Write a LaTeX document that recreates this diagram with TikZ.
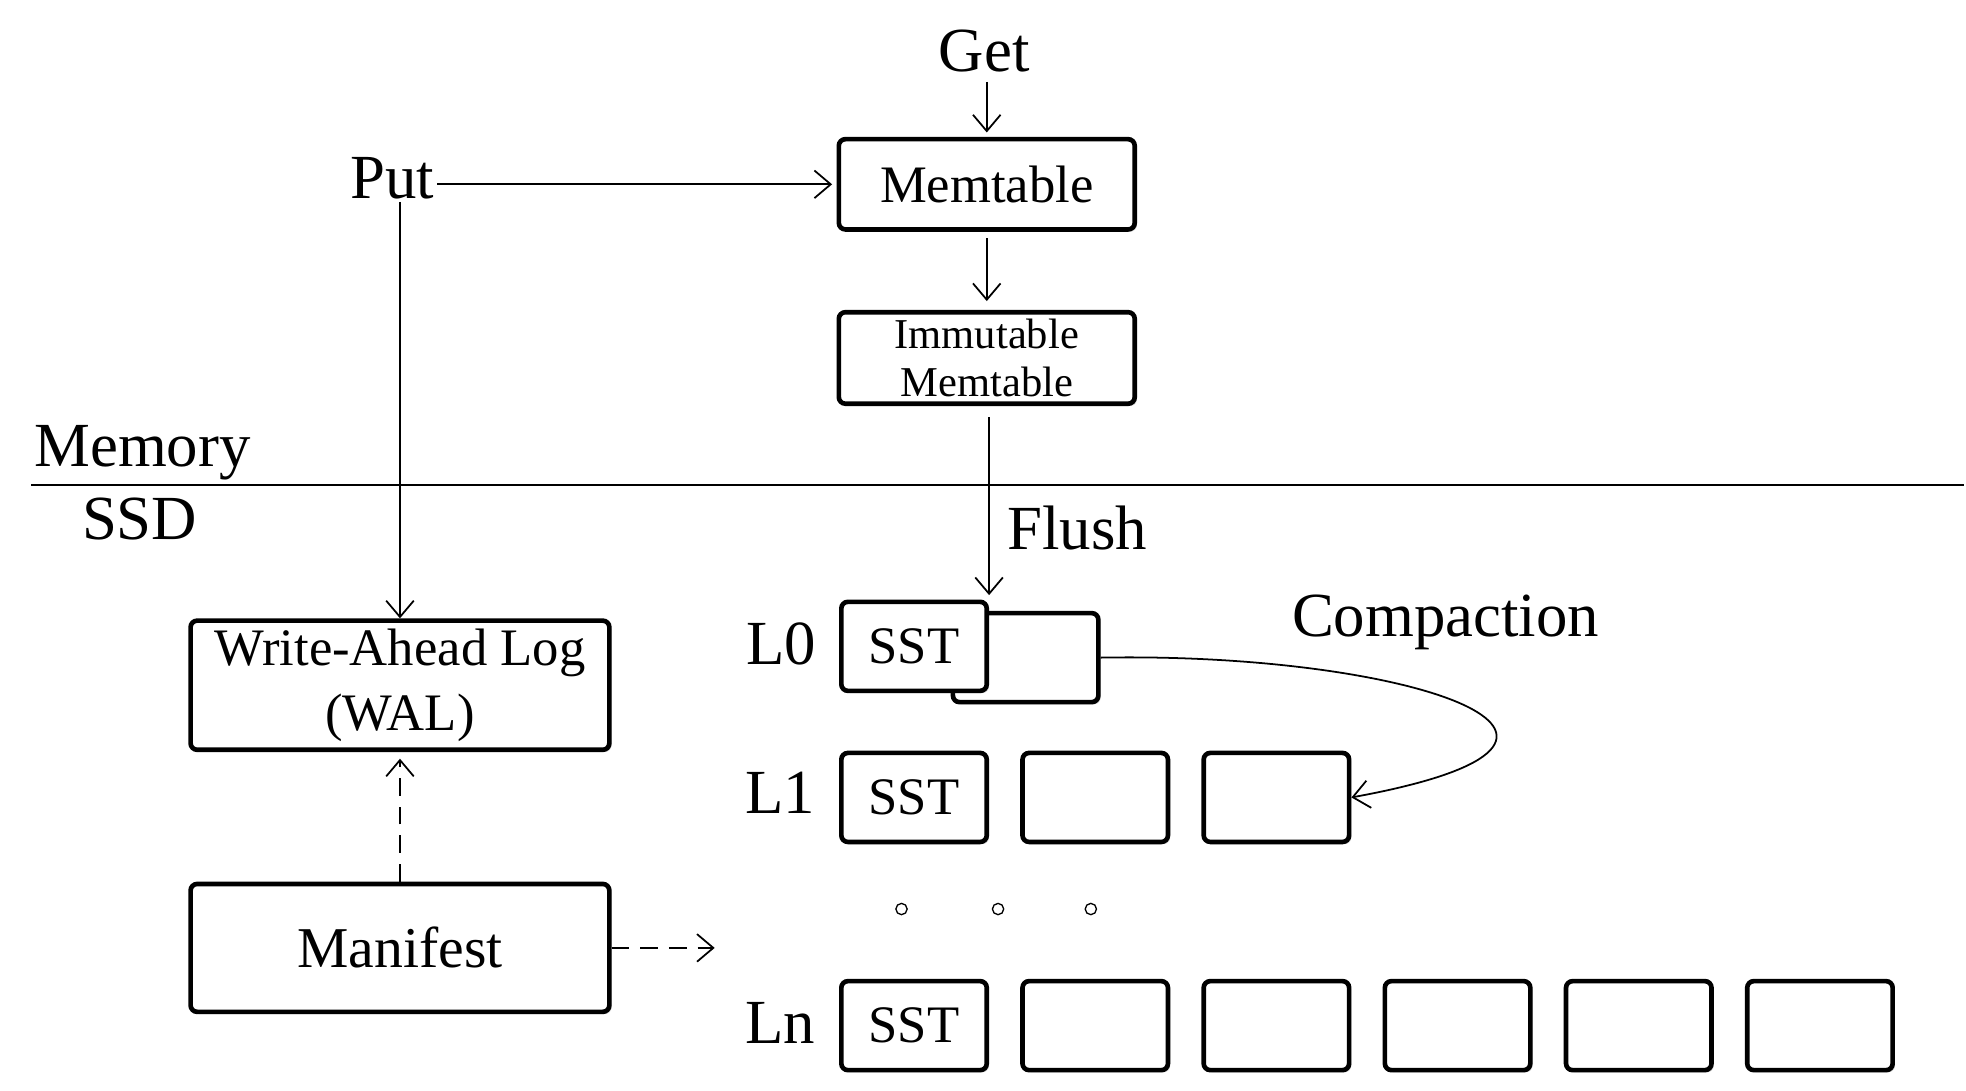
\documentclass[tikz,border=0pt]{standalone}
\usepackage{fontspec}
\setmainfont{Liberation Serif}
\usetikzlibrary{arrows.meta,shadows}

\tikzset{
  lbl/.style={inner sep=1pt, font=\fontsize{28.5}{32}\selectfont},
  box/.style={draw, line width=2.1pt, rounded corners=3pt, fill=white, inner sep=2pt,
    drop shadow={shadow xshift=1pt, shadow yshift=-1pt, opacity=0.35}},
  sst/.style={box, minimum width=2.32cm, minimum height=1.42cm, font=\fontsize{23.9}{26}\selectfont},
  dashline/.style={dash pattern=on 8pt off 5pt}
}

\begin{document}
\begin{tikzpicture}[>={Straight Barb[length=2.6mm,width=4.4mm]}, line width=0.8pt]
\useasboundingbox (0,0) rectangle (31.36,17.40);

% memory part
\node[lbl, anchor=base] (get) at (15.70,16.26) {Get};
\node[lbl, anchor=base] (put) at (6.26,14.24) {Put};
\node[box, minimum width=4.72cm, minimum height=1.44cm, font=\fontsize{23.9}{26}\selectfont] (mem) at (15.74,14.46) {Memtable};
\node[box, minimum width=4.72cm, minimum height=1.46cm, align=center, font=\fontsize{19.3}{22.2}\selectfont] (imm) at (15.74,11.69) {Immutable\\Memtable};

\node[lbl, anchor=base west] (memory) at (0.50,9.96) {Memory};
\node[lbl, anchor=base west] (ssd) at (1.26,8.80) {SSD};
\draw (0.5,9.66) -- (31.32,9.66);

% disk part
\node[box, minimum width=6.68cm, minimum height=2.06cm, align=center, font=\fontsize{23.9}{29.6}\selectfont] (wal) at (6.38,6.47) {Write-Ahead Log\\(WAL)};
\node[box, minimum width=6.68cm, minimum height=2.04cm, font=\fontsize{26.2}{30}\selectfont] (mani) at (6.38,2.28) {Manifest};
\coordinate (mfree) at (11.4,2.28);

\node[lbl, anchor=base west] (flush) at (16.02,8.64) {Flush};
\node[lbl, anchor=base west] (compact) at (20.56,7.24) {Compaction};

\node[lbl, anchor=base west] (lzero) at (11.86,6.80) {L0};
\node[lbl, anchor=base west] (lone) at (11.84,4.42) {L1};
\node[lbl, anchor=base west] (lend) at (11.84,0.76) {Ln};

\node[sst] (b0) at (16.36,6.91) {};
\node[sst] (sst0) at (14.58,7.09) {SST};

\node[sst] (l1a) at (14.58,4.68) {SST};
\node[sst] (l1b) at (17.47,4.68) {};
\node[sst] (l1c) at (20.36,4.68) {};

\node[sst] (ln0) at (14.58,1.04) {SST};
\foreach \i in {1,...,5}
  \node[sst] (ln\i) at ({14.58+2.89*\i},1.04) {};

\foreach \x in {14.38,15.92,17.40}
  \draw[line width=0.6pt] (\x,2.9) circle (0.09);

% arrows
\draw[->, shorten <=3pt, shorten >=2pt] (get.south -| mem.north) -- (mem.north);
\draw[->, shorten >=2pt] (put.east |- mem.west) -- (mem.west);
\draw[->] (put.south -| wal.north) -- (wal.north);
\draw[->, shorten <=3pt, shorten >=4pt] (mem) -- (imm);
\draw[->, shorten <=5pt, shorten >=2pt] (imm.south -| sst0.north east) -- (sst0.north east);
\draw[->, dashline, shorten >=3pt] (mani) -- (wal);
\draw[->, dashline] (mani) -- (mfree);
\draw[->] (b0.east) .. controls (22.5,7.0) and (26.6,5.6) .. (l1c.east);

\end{tikzpicture}
\end{document}
